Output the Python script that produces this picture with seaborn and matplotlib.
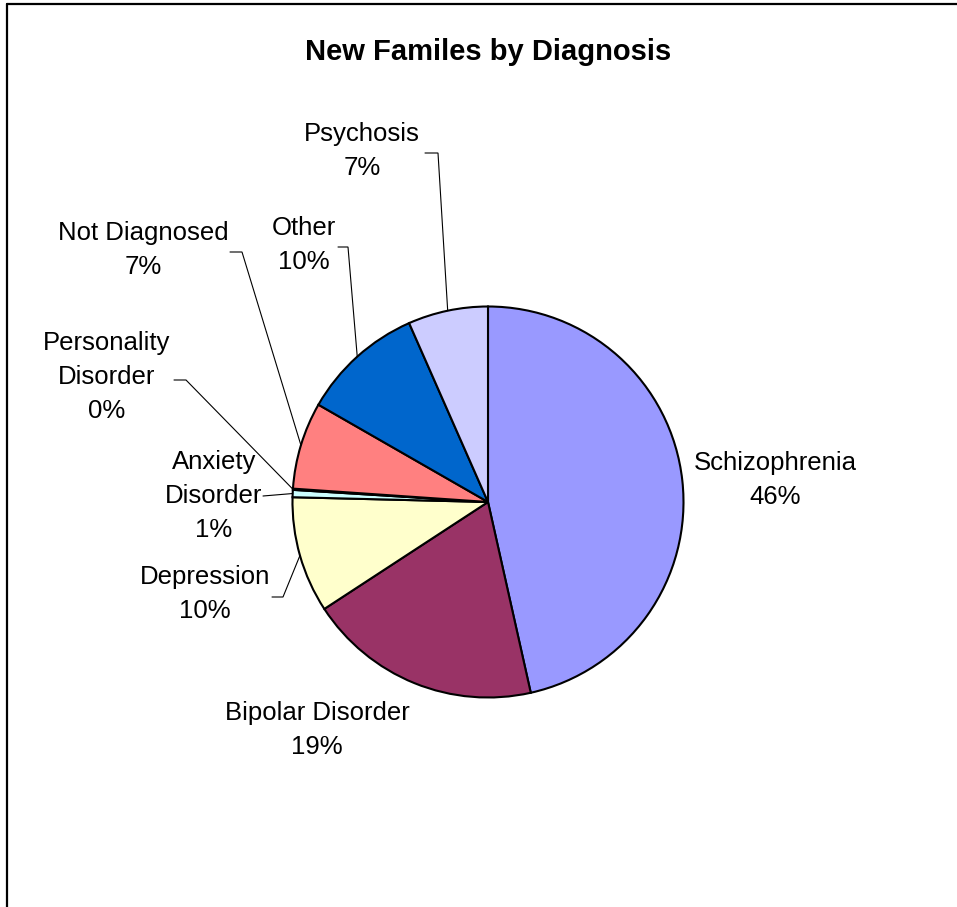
import matplotlib
matplotlib.use("Agg")
import numpy as np
import matplotlib.pyplot as plt
from matplotlib.lines import Line2D
import seaborn as sns

# ---------------- data ----------------
categories = ["Schizophrenia", "Bipolar Disorder", "Depression", "Anxiety Disorder",
              "Personality Disorder", "Not Diagnosed", "Other", "Psychosis"]
label_names = ["Schizophrenia", "Bipolar Disorder", "Depression", "Anxiety\nDisorder",
               "Personality\nDisorder", "Not Diagnosed", "Other", "Psychosis"]
values = [46.49, 19.3, 9.6, 0.6, 0.1, 7.2, 10.1, 6.61]
title = "New Familes by Diagnosis"

# ---------------- style / layout ----------------
colors = ["#9999FF", "#993366", "#FFFFCC", "#CCFFFF", "#660066", "#FF8080", "#0066CC", "#CCCCFF"]
# label block centres (pixels from top-left)
label_pos = [(775, 480), (317, 730), (205, 594), (214, 496), (107, 377),
             (143, 250), (304, 245), (362, 151)]
# leader line: (start, elbow) in pixels, None = no leader
leaders = [None, None, ((272, 597), (283, 597)), ((263, 496), (263, 496)),
           ((174, 380), (186, 380)), ((230, 252), (242, 252)),
           ((338, 247), (348, 247)), ((425, 153), (438, 153))]

sns.set_theme(style="white")
plt.rcParams["font.family"] = ["Liberation Sans", "DejaVu Sans"]

W, H = 957, 907
CX, CY, R = 488, 502, 195.5

fig = plt.figure(figsize=(W / 100, H / 100), dpi=100)
fig.patch.set_facecolor("white")
ax = fig.add_axes([0, 0, 1, 1])

wedges, _ = ax.pie(values, colors=colors, startangle=90, counterclock=False,
                   radius=1, center=(0, 0),
                   wedgeprops=dict(edgecolor="black", linewidth=1.5))

ax.set_aspect("auto")
ax.set_xlim(-CX / R, (W - CX) / R)
ax.set_ylim(-(H - CY) / R, CY / R)
ax.axis("off")


def px2d(p):
    return ((p[0] - CX) / R, (CY - p[1]) / R)


total = sum(values)
for name, v, pos, lead, w in zip(label_names, values, label_pos, leaders, wedges):
    pct = int(round(v / total * 100))
    x, y = px2d(pos)
    ax.text(x, y, f"{name}\n{pct}%", ha="center", va="center", multialignment="center",
            fontsize=18.5, color="black", linespacing=1.53)
    if lead is not None:
        mid = np.deg2rad((w.theta1 + w.theta2) / 2)
        ex, ey = np.cos(mid), np.sin(mid)
        s = px2d(lead[0])
        e = px2d(lead[1])
        ax.plot([s[0], e[0], ex], [s[1], e[1], ey], color="black", linewidth=0.8,
                solid_joinstyle="miter")

fig.text(CX / W, 1 - 52 / H, title, ha="center", va="center",
         fontsize=21, fontweight="bold", color="black")

# chart-area frame (top and left edges visible)
fig.add_artist(Line2D([7.5 / W, 7.5 / W], [0, 1 - 4 / H], transform=fig.transFigure,
                      color="black", linewidth=1.6))
fig.add_artist(Line2D([7.5 / W, 1], [1 - 4 / H, 1 - 4 / H], transform=fig.transFigure,
                      color="black", linewidth=1.6))

fig.savefig("out.png", dpi=100, facecolor="white")
